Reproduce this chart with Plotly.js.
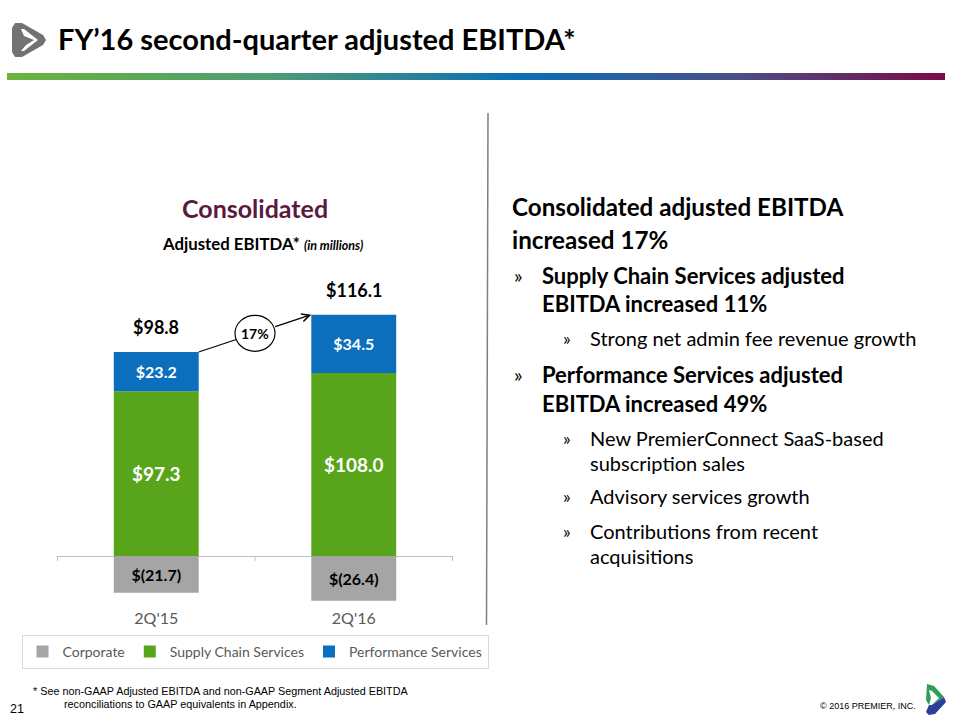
<!DOCTYPE html>
<html>
<head>
<meta charset="utf-8">
<script src="https://cdn.plot.ly/plotly-3.0.1.min.js"></script>
<style>html,body{margin:0;padding:0;background:#fff;}#chart{width:960px;height:720px;}</style>
</head>
<body>
<div id="chart"></div>
<script>
// ---- data ----
const categories = ["2Q'15", "2Q'16"];
const seriesNames = ["Corporate", "Supply Chain Services", "Performance Services"];
const corporate = [-21.7, -26.4];
const supplyChain = [97.3, 108.0];
const performance = [23.2, 34.5];
const totals = [98.8, 116.1];
const growthLabel = "17%";

// ---- helpers ----
const W = 960, H = 720;
const px = x => x / W;
const py = y => 1 - y / H;
const fmt = v => v < 0 ? '$(' + Math.abs(v).toFixed(1) + ')' : '$' + v.toFixed(1);

const FONT = 'Lato, "Open Sans", sans-serif';
const colors = { corp: '#a5a5a5', supply: '#58a51b', perf: '#0b6fbd' };

// plot area in pixels
const plotL = 57, plotR = 453, plotT = 302, plotB = 606.8;
const yRange = [-30, 150];
const bargap = 0.57;
const bw = 1 - bargap;

const traces = [
  { type: 'bar', name: seriesNames[0], x: categories, y: corporate, marker: { color: colors.corp },
    text: corporate.map(fmt), textposition: 'inside', insidetextanchor: 'middle',
    textfont: { family: FONT, size: 16, color: '#000', weight: 'bold' }, hoverinfo: 'skip' },
  { type: 'bar', name: seriesNames[1], x: categories, y: supplyChain, marker: { color: colors.supply },
    text: supplyChain.map(fmt), textposition: 'inside', insidetextanchor: 'middle',
    textfont: { family: FONT, size: 19, color: '#fff', weight: 'bold' }, hoverinfo: 'skip' },
  { type: 'bar', name: seriesNames[2], x: categories, y: performance, marker: { color: colors.perf },
    text: performance.map(fmt), textposition: 'inside', insidetextanchor: 'middle',
    textfont: { family: FONT, size: 16, color: '#fff', weight: 'bold' }, hoverinfo: 'skip' }
];

// arrow geometry computed from data
const pxX = (plotR - plotL) / categories.length;
const pxY = (plotB - plotT) / (yRange[1] - yRange[0]);
const posTop = supplyChain.map((v, i) => v + performance[i]);
const A = { x: 0 + bw / 2, y: posTop[0] };
const B = { x: 1 - bw / 2, y: posTop[1] };
const dxp = (B.x - A.x) * pxX, dyp = (B.y - A.y) * pxY;
const L = Math.hypot(dxp, dyp);
const ux = dxp / L, uy = dyp / L;
const M = { x: (A.x + B.x) / 2, y: (A.y + B.y) / 2 };
const rx = 20, ry = 18;
const r = 1 / Math.sqrt((ux / rx) ** 2 + (uy / ry) ** 2);
const E1 = { x: M.x - r * ux / pxX, y: M.y - r * uy / pxY };
const E2 = { x: M.x + r * ux / pxX, y: M.y + r * uy / pxY };

const shapes = [
  // category boundary ticks
  ...[-0.5, 0.5, 1.5].map(x => ({ type: 'line', xref: 'x', yref: 'y', x0: x, x1: x, y0: 0, y1: -3, line: { color: '#bfbfbf', width: 1 } })),
  // arrow first half
  { type: 'line', xref: 'x', yref: 'y', x0: A.x, y0: A.y, x1: E1.x, y1: E1.y, line: { color: '#000', width: 1.2 }, layer: 'above' },
  // circle
  { type: 'circle', xref: 'x', yref: 'y', xsizemode: 'pixel', ysizemode: 'pixel', xanchor: M.x, yanchor: M.y,
    x0: -rx, x1: rx, y0: -ry, y1: ry, fillcolor: '#fff', line: { color: '#000', width: 1.2 }, layer: 'above' },
  // vertical divider
  { type: 'line', xref: 'paper', yref: 'paper', x0: px(488), y0: py(113), x1: px(486.5), y1: py(625), line: { color: '#7f7f7f', width: 1.5 } },
];

// logos (paper-coordinate paths from pixel points)
function pathFrom(pts) {
  return 'M' + pts.map(p => px(p[0]).toFixed(5) + ',' + py(p[1]).toFixed(5)).join(' L') + ' Z';
}
shapes.push({ type: 'path', xref: 'paper', yref: 'paper', path: pathFrom([[15,23],[22,23],[43,35],[46,40],[43,45],[22,57],[15,57],[12,52],[12,28]]), fillcolor: '#727272', line: { width: 0 } });
shapes.push({ type: 'path', xref: 'paper', yref: 'paper', path: pathFrom([[21,29],[24,29],[38,40],[24,51],[21,51],[26,45],[34,40],[24,36]]), fillcolor: '#ffffff', line: { width: 0 } });
shapes.push({ type: 'path', xref: 'paper', yref: 'paper', path: pathFrom([[927,684],[934,686],[944,697],[935,703],[929,705],[926,700]]), fillcolor: '#2f9e5a', line: { width: 0 } });
shapes.push({ type: 'path', xref: 'paper', yref: 'paper', path: pathFrom([[944,697],[946,702],[935,714],[929,715],[926,712],[929,705],[935,703]]), fillcolor: '#2c3f9a', line: { width: 0 } });
shapes.push({ type: 'path', xref: 'paper', yref: 'paper', path: pathFrom([[929,690],[932,691],[939,698],[932,705],[929,705],[931,698]]), fillcolor: '#ffffff', line: { width: 0 } });

const ann = [];
function txt(x, y, text, size, opts = {}) {
  ann.push(Object.assign({ xref: 'paper', yref: 'paper', x: px(x), y: py(y), text: text, showarrow: false,
    xanchor: 'left', yanchor: 'middle', font: { family: FONT, size: size, color: '#000' } }, opts));
}
// title
txt(56, 38, '<b>FY’16 second-quarter adjusted EBITDA*</b>', 29);
// chart title
txt(255, 208, '<b>Consolidated</b>', 25, { xanchor: 'center', font: { family: FONT, size: 25, color: '#5a1a40' } });
txt(262, 243, '<b>Adjusted EBITDA* </b><span style="font-size:12.5px"><b><i>(in millions)</i></b></span>', 16.8, { xanchor: 'center' });
// totals above bars
categories.forEach((c, i) => {
  ann.push({ xref: 'x', yref: 'y', x: c, y: posTop[i], text: '<b>' + fmt(totals[i]) + '</b>', showarrow: false,
    yanchor: 'bottom', yshift: 12, font: { family: FONT, size: 18, color: '#000' } });
});
// arrow second half with head
ann.push({ xref: 'x', yref: 'y', axref: 'x', ayref: 'y', x: B.x, y: B.y, ax: E2.x, ay: E2.y, text: '',
  showarrow: true, arrowhead: 5, arrowsize: 1.3, arrowwidth: 1.2, arrowcolor: '#000' });
ann.push({ xref: 'x', yref: 'y', x: M.x, y: M.y, text: '<b>' + growthLabel + '</b>', showarrow: false,
  font: { family: FONT, size: 14, color: '#000' } });

// right text
const B1 = 22, B2 = 20;
txt(510, 206, '<b>Consolidated adjusted EBITDA</b>', 24.2);
txt(510, 240, '<b>increased 17%</b>', 24.2);
txt(512, 275, '»', 20);
txt(540, 275, '<b>Supply Chain Services adjusted</b>', B1);
txt(540, 303, '<b>EBITDA increased 11%</b>', B1);
txt(561, 338, '»', 18);
txt(588, 338, 'Strong net admin fee revenue growth', B2);
txt(512, 374, '»', 20);
txt(540, 374, '<b>Performance Services adjusted</b>', B1);
txt(540, 403, '<b>EBITDA increased 49%</b>', B1);
txt(561, 438, '»', 18);
txt(588, 438, 'New PremierConnect SaaS-based', B2);
txt(588, 463, 'subscription sales', B2);
txt(561, 496, '»', 18);
txt(588, 496, 'Advisory services growth', B2);
txt(561, 531, '»', 18);
txt(588, 531, 'Contributions from recent', B2);
txt(588, 556, 'acquisitions', B2);

// footer
const NARROW = '"Liberation Sans Narrow", "Liberation Sans", Arial, sans-serif';
txt(31, 691, '* See non-GAAP Adjusted EBITDA and non-GAAP Segment Adjusted EBITDA', 10.8, { font: { family: NARROW, size: 10.8, color: '#000' } });
txt(62, 704, 'reconciliations to GAAP equivalents in Appendix.', 10.8, { font: { family: NARROW, size: 10.8, color: '#000' } });
txt(8, 709, '21', 12.5, { font: { family: NARROW, size: 12.5, color: '#000' } });
txt(918, 706, '© 2016 PREMIER, INC.', 9, { xanchor: 'right', font: { family: NARROW, size: 9, color: '#000' } });

// gradient rule
const gradSvg = '<svg xmlns="http://www.w3.org/2000/svg" width="938" height="7" preserveAspectRatio="none">' +
  '<defs><linearGradient id="g" x1="0" x2="1" y1="0" y2="0">' +
  '<stop offset="0" stop-color="#6ab43c"/><stop offset="0.28" stop-color="#4f9c74"/><stop offset="0.55" stop-color="#0a6db6"/>' +
  '<stop offset="0.78" stop-color="#4a4f86"/><stop offset="1" stop-color="#7a0a47"/></linearGradient></defs>' +
  '<rect width="938" height="7" fill="url(#g)"/></svg>';

const layout = {
  width: W, height: H,
  margin: { l: 0, r: 0, t: 0, b: 0 },
  paper_bgcolor: '#fff', plot_bgcolor: 'rgba(0,0,0,0)',
  font: { family: FONT },
  barmode: 'relative', bargap: bargap,
  showlegend: true,
  legend: { orientation: 'h', xref: 'paper', yref: 'paper', x: px(255), xanchor: 'center', y: py(635), yanchor: 'top',
    bordercolor: '#d9d9d9', borderwidth: 1, font: { family: FONT, size: 14, color: '#595959' },
    itemwidth: 30, traceorder: 'normal' },
  xaxis: { domain: [px(plotL), px(plotR)], type: 'category', showgrid: false, showline: false, ticks: '',
    tickfont: { family: FONT, size: 16, color: '#595959' }, fixedrange: true },
  yaxis: { domain: [py(plotB), py(plotT)], range: yRange, showgrid: false, showticklabels: false, showline: false,
    ticks: '', zeroline: true, zerolinecolor: '#bfbfbf', zerolinewidth: 1, fixedrange: true },
  shapes: shapes,
  annotations: ann,
  images: [{ source: 'data:image/svg+xml;charset=utf-8,' + encodeURIComponent(gradSvg), xref: 'paper', yref: 'paper',
    x: px(7), y: py(73), sizex: 938 / W, sizey: 7 / H, sizing: 'stretch', xanchor: 'left', yanchor: 'top', layer: 'below' }]
};

Plotly.newPlot('chart', traces, layout, { staticPlot: true, displayModeBar: false });
</script>
</body>
</html>
